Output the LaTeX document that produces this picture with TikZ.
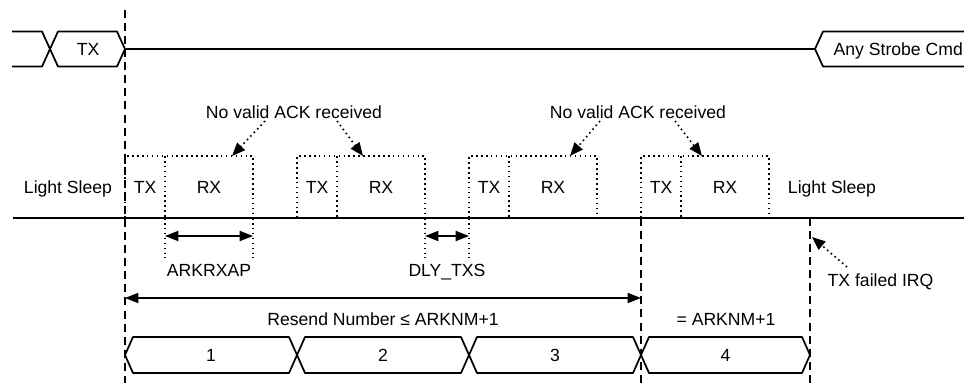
\documentclass[tikz,border=0pt]{standalone}
\usepackage{fontspec}
\setmainfont{Liberation Sans}
\usetikzlibrary{arrows.meta}

\begin{document}
\begin{tikzpicture}[x=0.75pt, y=-0.75pt, font=\fontsize{13.2pt}{15pt}\selectfont,
	bus/.style={line width=1.3pt, line join=round},
	marker/.style={line width=1.2pt, dash pattern=on 6pt off 3.8pt},
	slot/.style={line width=1.2pt, dash pattern=on 1.2pt off 2.5pt},
	tip/.style={-{Triangle[length=10pt,width=8pt]}},
	note/.style={slot, tip},
	span/.style={bus, {Triangle[length=10pt,width=7.5pt]}-{Triangle[length=10pt,width=7.5pt]}},
	lbl/.style={anchor=base}]
	\useasboundingbox (0,0) rectangle (964,383);
	% top bus: TX, idle, strobe command
	\draw[bus] (12,31.5) -- (42,31.5) -- (58,66.5) -- (117,66.5) -- (125,49) -- (117,31.5)
		-- (58,31.5) -- (42,66.5) -- (12,66.5);
	\draw[bus] (125,49) -- (815,49);
	\draw[bus] (964,31.5) -- (823,31.5) -- (815,49) -- (823,66.5) -- (964,66.5);
	\node[lbl] (tx) at (88,55) {TX};
	\node[lbl, anchor=base west] (strobe) at (829,55) {Any Strobe Cmd};
	% time markers (dashed)
	\draw[marker] (125,10) -- (125,383);
	\draw[marker] (641,218) -- (641,383);
	\draw[marker] (810,218) -- (810,383);
	% state line with the four TX/RX tries (dotted)
	\draw[bus] (13,218) -- (964,218);
	\foreach \x [count=\n] in {125,297,469,641} {
		\draw[slot] (\x,218) -- (\x,156) -- (\x+128,156) -- (\x+128,218);
		\draw[slot] (\x+40,156) -- (\x+40,218);
		\node[lbl] (tx\n) at (\x+20,193) {TX};
		\node[lbl] (rx\n) at (\x+84,193) {RX};
	}
	\node[lbl] (sleepa) at (68,193) {Light Sleep};
	\node[lbl] (sleepb) at (832,193) {Light Sleep};
	% no ACK notes
	\node[lbl] (acka) at (294,118) {No valid ACK received};
	\node[lbl] (ackb) at (638,118) {No valid ACK received};
	\coordinate (acka1) at (265,121);
	\coordinate (acka2) at (337,121);
	\coordinate (ackb1) at (600,121);
	\coordinate (ackb2) at (675,121);
	\coordinate (rxtop1) at (232,156);
	\coordinate (rxtop2) at (363,156);
	\coordinate (rxtop3) at (570,156);
	\coordinate (rxtop4) at (702,156);
	\draw[note] (acka1) -- (rxtop1);
	\draw[note] (acka2) -- (rxtop2);
	\draw[note] (ackb1) -- (rxtop3);
	\draw[note] (ackb2) -- (rxtop4);
	% timing parameters
	\draw[slot] (165,218) -- (165,258);
	\draw[slot] (253,218) -- (253,258);
	\draw[slot] (425,218) -- (425,258);
	\draw[slot] (469,218) -- (469,258);
	\coordinate (apa) at (165,236);
	\coordinate (apb) at (253,236);
	\coordinate (dlya) at (425,236);
	\coordinate (dlyb) at (469,236);
	\draw[span] (apa) -- (apb);
	\draw[span] (dlya) -- (dlyb);
	\node[lbl] (arkrxap) at (209,276) {ARKRXAP};
	\node[lbl] (dlytxs) at (447,276) {DLY\_TXS};
	% IRQ note
	\node[lbl, anchor=base west] (irq) at (823,286) {TX failed IRQ};
	\coordinate (irqa) at (847,267);
	\coordinate (irqb) at (812,237);
	\draw[note] (irqa) -- (irqb);
	% resend count
	\coordinate (resa) at (125,298);
	\coordinate (resb) at (641,298);
	\draw[span] (resa) -- (resb);
	\node[lbl] (resend) at (383,325) {Resend Number ≤ ARKNM+1};
	\node[lbl] (last) at (726,325) {= ARKNM+1};
	% bottom bus: try numbers
	\foreach \a/\b [count=\n] in {125/297,297/469,469/641,641/810} {
		\draw[bus] (\a,355) -- (\a+8,337) -- (\b-8,337) -- (\b,355) -- (\b-8,373) -- (\a+8,373) -- cycle;
		\node[lbl] (try\n) at ({(\a+\b)/2},361) {\n};
	}
\end{tikzpicture}
\end{document}
